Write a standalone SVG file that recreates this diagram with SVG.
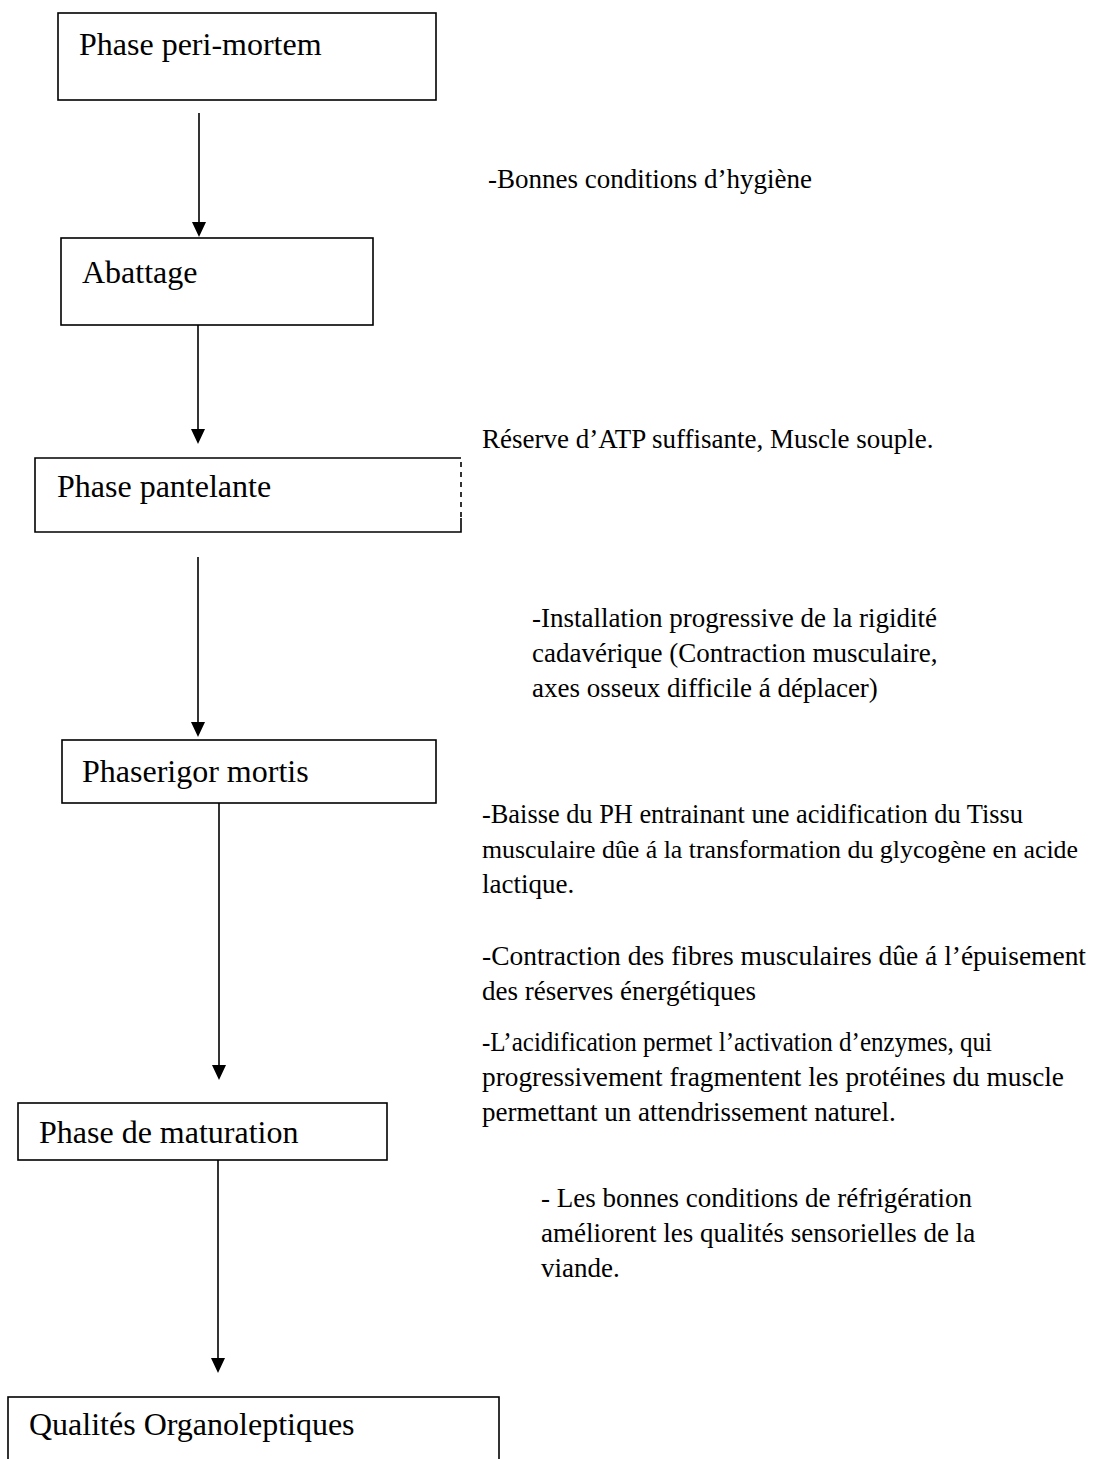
<svg xmlns="http://www.w3.org/2000/svg" width="1101" height="1459" viewBox="0 0 1101 1459">
<style>
.box{fill:#fff;stroke:#000;stroke-width:1.6}
.lbl{font-family:"Liberation Serif","Times New Roman",serif;font-size:32px;fill:#000}
.note{font-family:"Liberation Serif","Times New Roman",serif;font-size:27px;fill:#000}
.line{stroke:#000;stroke-width:1.6;fill:none}
</style>
<rect width="1101" height="1459" fill="#fff"/>
<g id="connectors">
<line class="line" x1="199" y1="113" x2="199" y2="222"/><path d="M192,222 L206,222 L199,237 Z"/>
<line class="line" x1="198" y1="325" x2="198" y2="429"/><path d="M191,429 L205,429 L198,444 Z"/>
<line class="line" x1="198" y1="557" x2="198" y2="725"/><path d="M191,722 L205,722 L198,737 Z"/>
<line class="line" x1="219" y1="803" x2="219" y2="1066"/><path d="M212,1065 L226,1065 L219,1080 Z"/>
<line class="line" x1="218" y1="1160" x2="218" y2="1358"/><path d="M211,1358 L225,1358 L218,1373 Z"/>
</g>
<g id="n1"><rect class="box" x="58" y="13" width="378" height="87"/><text class="lbl" x="79" y="55">Phase peri-mortem</text></g>
<g id="n2"><rect class="box" x="61" y="238" width="312" height="87"/><text class="lbl" x="82" y="283">Abattage</text></g>
<g id="n3"><path class="line" d="M461,458 L35,458 L35,532 L461,532 L461,518"/><line class="line" x1="461" y1="462" x2="461" y2="518" stroke-dasharray="5,5"/><text class="lbl" x="57" y="497">Phase pantelante</text></g>
<g id="n4"><rect class="box" x="62" y="740" width="374" height="63"/><text class="lbl" x="82" y="782">Phaserigor mortis</text></g>
<g id="n5"><rect class="box" x="18" y="1103" width="369" height="57"/><text class="lbl" x="39" y="1143">Phase de maturation</text></g>
<g id="n6"><rect class="box" x="8" y="1397" width="491" height="80"/><text class="lbl" x="29" y="1435">Qualités Organoleptiques</text></g>
<g id="notes">
<text class="note" x="488" y="188">-Bonnes conditions d’hygiène</text>
<text class="note" x="482" y="448">Réserve d’ATP suffisante, Muscle souple.</text>
<text class="note" x="532" y="627">-Installation progressive de la rigidité</text>
<text class="note" x="532" y="662">cadavérique (Contraction musculaire,</text>
<text class="note" x="532" y="697">axes osseux difficile á déplacer)</text>
<text class="note" x="482" y="823" textLength="541" lengthAdjust="spacingAndGlyphs">-Baisse du PH entrainant une acidification du Tissu</text>
<text class="note" x="482" y="858" font-size="26" style="font-size:26px" textLength="596" lengthAdjust="spacingAndGlyphs">musculaire dûe á la transformation du glycogène en acide</text>
<text class="note" x="482" y="893">lactique.</text>
<text class="note" x="482" y="965" textLength="604" lengthAdjust="spacingAndGlyphs">-Contraction des fibres musculaires dûe á l’épuisement</text>
<text class="note" x="482" y="1000">des réserves énergétiques</text>
<text class="note" x="482" y="1051" textLength="510" lengthAdjust="spacingAndGlyphs">-L’acidification permet l’activation d’enzymes, qui</text>
<text class="note" x="482" y="1086" textLength="582" lengthAdjust="spacingAndGlyphs">progressivement fragmentent les  protéines du muscle</text>
<text class="note" x="482" y="1121">permettant un attendrissement naturel.</text>
<text class="note" x="541" y="1207">- Les bonnes conditions de réfrigération</text>
<text class="note" x="541" y="1242">améliorent les qualités sensorielles de la</text>
<text class="note" x="541" y="1277">viande.</text>
</g>
</svg>
